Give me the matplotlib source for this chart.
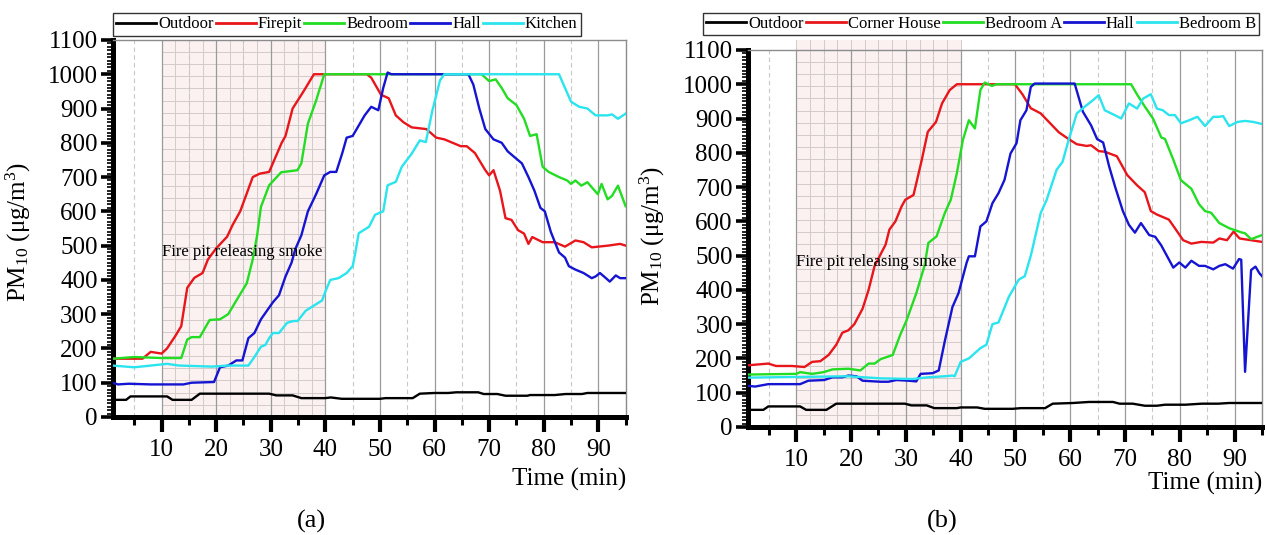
import matplotlib
matplotlib.use('Agg')
import matplotlib.pyplot as plt
from matplotlib.ticker import FixedLocator, MultipleLocator
import numpy as np

plt.rcParams['font.family'] = ['Liberation Serif', 'DejaVu Serif']
plt.rcParams['mathtext.fontset'] = 'custom'
plt.rcParams['mathtext.rm'] = 'Liberation Serif'
plt.rcParams['mathtext.it'] = 'Liberation Serif:italic'

# smoke release window (min)
smoke_start, smoke_end = 10, 40

# ---- house (a): (time min, PM10 ug/m3) ----
outdoor_a = [(1, 50), (3.5, 50), (4.3, 60), (11, 60), (12, 50), (15.5, 50), (17, 68), (29.7, 68),
             (31, 63), (34, 63), (35.6, 55), (40, 55), (41, 57), (43, 53), (50, 53), (51, 55),
             (56, 55), (57.3, 68), (60, 70), (62.5, 70), (64, 72), (68, 72), (69, 67), (71.5, 67),
             (73, 62), (77, 62), (77.5, 64), (82, 64), (84, 67), (87, 67), (88, 70), (95, 70)]
firepit_a = [(1, 170), (6.5, 170), (8, 190), (10, 185), (11, 200), (12.5, 236), (13.6, 265),
             (14.7, 377), (16, 406), (17.5, 420), (18.5, 460), (20, 492), (22, 526), (23, 560),
             (24.4, 600), (26.7, 700), (28, 710), (29.7, 715), (32, 800), (32.7, 820), (34, 900),
             (36, 950), (37.9, 1000), (47.6, 1000), (48.4, 990), (50.2, 940), (51.6, 930),
             (52.9, 880), (54.3, 860), (55.8, 845), (58.5, 840), (60.3, 815), (61.8, 810),
             (63.3, 800), (64.8, 790), (65.9, 790), (67.4, 770), (69.3, 720), (70, 705),
             (70.8, 720), (72, 660), (73, 580), (74.1, 575), (75.3, 545), (76.4, 535), (77.2, 505),
             (77.9, 525), (79.8, 510), (82, 510), (83.9, 497), (85.8, 515), (87.3, 510),
             (88.8, 495), (91.8, 500), (94, 505), (95, 500)]
bedroom_a = [(1, 170), (5, 175), (10, 172), (13.6, 172), (14.7, 226), (15.5, 233), (17, 233),
             (18.8, 283), (20.7, 285), (22.2, 300), (23.7, 340), (25.6, 390), (26.7, 460),
             (27.5, 530), (28.2, 613), (29.7, 676), (31.9, 714), (34.9, 720), (35.6, 740),
             (36.8, 856), (38.3, 923), (39.8, 1000), (68.6, 1000), (70, 980), (71.2, 985),
             (72.3, 960), (73.4, 930), (75, 910), (76.4, 870), (77.5, 820), (78.7, 825), (79.8, 730),
             (80.9, 715), (82.8, 700), (84.3, 690), (85, 680), (85.8, 690), (86.9, 675), (88, 685),
             (89.9, 650), (90.6, 680), (91.7, 635), (92.5, 645), (93.6, 675), (95, 615)]
hall_a = [(1, 100), (2, 95), (4, 97), (8, 95), (14, 95), (15.5, 100), (19.6, 102), (20.7, 145),
          (22.2, 150), (23.7, 165), (24.8, 165), (25.9, 230), (27, 245), (28.2, 285), (29.3, 310),
          (30.4, 335), (31.5, 355), (32.7, 410), (33.8, 450), (34.5, 490), (35.6, 530), (36.8, 600),
          (38.3, 650), (39.8, 705), (40.9, 715), (42, 715), (43.1, 770), (43.9, 815), (45, 820),
          (46.1, 850), (47.2, 880), (48.4, 905), (49.7, 895), (50.6, 960), (51.4, 1005),
          (52.1, 1000), (66.2, 1000), (67.1, 970), (68.2, 900), (69.3, 840), (70.8, 810),
          (72.3, 800), (73.4, 775), (74.5, 760), (76, 740), (77.2, 700), (78.3, 660), (79.4, 610),
          (80.2, 600), (81.3, 540), (82.8, 480), (83.9, 465), (84.6, 440), (85.8, 430),
          (87.3, 420), (88.8, 405), (89.5, 410), (90.3, 420), (91.4, 405), (92.1, 395),
          (93.2, 413), (94, 405), (95, 405)]
kitchen_a = [(1, 150), (5, 145), (8, 150), (11, 155), (13.2, 150), (19.2, 147), (22.2, 150),
             (25.9, 150), (27, 175), (28.2, 205), (29, 210), (29.7, 230), (30.4, 245), (31.5, 245),
             (33, 275), (34.2, 280), (34.9, 280), (36.4, 310), (37.9, 325), (39.4, 340),
             (40.1, 370), (40.9, 400), (42.4, 405), (43.9, 420), (45, 440), (45.5, 480),
             (46.1, 536), (48, 555), (49.1, 590), (50.6, 600), (51.4, 676), (52.9, 686), (54, 730),
             (55.8, 768), (57.3, 807), (58.4, 802), (59.6, 894), (61, 982), (61.8, 1000),
             (82.8, 1000), (83.9, 960), (85, 920), (86.5, 905), (88, 900), (89.5, 880), (91.7, 880),
             (92.5, 883), (93.6, 870), (95, 885)]

# ---- house (b) ----
outdoor_b = [(1.2, 50), (4, 50), (4.9, 60), (10.7, 60), (11.8, 50), (15.5, 50), (17.3, 68),
             (29.8, 68), (31, 63), (33.8, 63), (35.2, 55), (39.3, 55), (40, 57), (43, 57),
             (44.4, 53), (49.5, 53), (51, 55), (55.4, 55), (56.8, 68), (60.5, 70), (63.4, 73),
             (67.8, 73), (69, 68), (71.4, 68), (73.6, 62), (75.8, 62), (77.3, 65), (81, 65),
             (84, 68), (87, 68), (89, 70), (95, 70)]
corner_b = [(1.2, 180), (4.9, 185), (6.3, 178), (9.2, 178), (11.5, 175), (12.9, 190), (14.4, 192),
            (15.9, 210), (17.3, 240), (18.4, 275), (19.5, 282), (20.6, 300), (22.1, 345),
            (23.2, 400), (24.3, 470), (25.2, 498), (26.3, 532), (27, 576), (28.1, 600), (29.2, 643),
            (29.9, 663), (31.4, 677), (32.9, 779), (34, 861), (35.5, 890), (36.6, 944), (38, 983),
            (39.3, 1000), (49.9, 1000), (51.3, 970), (52.8, 930), (54.6, 915), (56.1, 890),
            (57.9, 860), (59.7, 840), (61.2, 825), (63, 820), (63.8, 822), (65.2, 805), (66.3, 803),
            (68.5, 790), (70.4, 735), (72.2, 705), (73.6, 685), (74.7, 630), (75.8, 620),
            (78, 605), (79.1, 580), (80.6, 545), (82.1, 535), (83.9, 540), (86.1, 538),
            (87.2, 550), (88.6, 545), (89.8, 570), (90.9, 550), (95, 540)]
bedroomA_b = [(1.2, 153), (10, 155), (10.7, 160), (12.9, 155), (15, 160), (16.6, 168), (19.5, 170),
              (21.7, 165), (23.2, 185), (24.3, 185), (25.4, 198), (27.6, 210), (29, 270),
              (30.1, 310), (31.9, 390), (33.4, 470), (34.1, 537), (35.6, 556), (37.1, 624),
              (38.2, 663), (39.3, 740), (40.4, 837), (41.5, 895), (42.6, 871), (43.6, 983),
              (44.4, 1005), (45.7, 995), (46.5, 1000), (71.1, 1000), (72.2, 970), (73.6, 935),
              (75.1, 900), (76.6, 845), (77.3, 840), (78.8, 780), (80.2, 720), (82.1, 695),
              (83.5, 650), (84.6, 630), (85.7, 625), (87.2, 595), (89, 580), (91.2, 568),
              (91.9, 565), (93, 548), (95, 560)]
hall_b = [(1.2, 120), (2.5, 118), (4.9, 125), (10.7, 125), (12.2, 135), (15.1, 137), (16.6, 145),
          (18.4, 145), (19.5, 150), (21, 148), (22.1, 135), (25.4, 132), (26.8, 132), (28.3, 137),
          (30.5, 135), (31.9, 133), (32.7, 155), (34.9, 157), (36, 165), (37.1, 250), (38.5, 350),
          (39.6, 390), (41.1, 480), (41.5, 498), (42.6, 498), (43.6, 585), (44.7, 600),
          (45.8, 653), (46.9, 682), (48, 721), (49.1, 798), (50.2, 828), (50.9, 895), (52, 924),
          (52.8, 992), (53.5, 1002), (60.8, 1002), (62.3, 920), (63.8, 880), (64.9, 840),
          (66, 830), (67.1, 760), (68.2, 700), (69.6, 630), (70.7, 590), (71.8, 567), (72.9, 595),
          (74.4, 560), (75.5, 555), (76.6, 530), (78.8, 465), (79.9, 480), (81, 465), (82.1, 485),
          (83.5, 470), (84.6, 470), (86.1, 460), (87.2, 470), (88.3, 475), (89.7, 462),
          (90.8, 490), (91.2, 488), (91.9, 161), (93, 458), (93.8, 468), (94.5, 449), (95, 440)]
bedroomB_b = [(1.2, 144), (19.5, 148), (22.4, 145), (25.3, 142), (31.2, 140), (34.1, 145),
              (37.1, 148), (38.5, 150), (38.9, 148), (40, 190), (41.5, 200), (43.6, 230),
              (44.7, 240), (45.8, 300), (46.9, 305), (48.8, 380), (50.6, 430), (51.7, 440),
              (52.8, 500), (53.2, 527), (54.6, 624), (55.7, 663), (57.5, 750), (58.6, 774),
              (59.7, 837), (61.2, 915), (62.6, 934), (64.1, 953), (65.2, 968), (66.3, 924),
              (68.1, 910), (69.3, 900), (70.7, 944), (72.2, 929), (73.3, 958), (74.7, 971),
              (75.8, 929), (76.9, 924), (78, 910), (79.1, 910), (80.2, 886), (81.7, 895),
              (83.2, 905), (84.6, 878), (86.1, 905), (87.2, 905), (87.9, 907), (89, 878),
              (90.5, 890), (91.9, 893), (93.4, 890), (95, 884)]

names_a = ['Outdoor', 'Firepit', 'Bedroom', 'Hall', 'Kitchen']
names_b = ['Outdoor', 'Corner House', 'Bedroom A', 'Hall', 'Bedroom B']
colors = ['black', '#e8161b', '#22dd22', '#1414d2', '#2ae4ee']
x_major = [10, 20, 30, 40, 50, 60, 70, 80, 90]
x_minor = [5, 15, 25, 35, 45, 55, 65, 75, 85, 95]
y_ticks = list(range(0, 1101, 100))


def panel(ax, series, names, xlim, shade_top, xlabel_y):
    # smoke period: pale pink band with a fine grid on top
    ax.fill_between([smoke_start, smoke_end], 0, shade_top, color='#fbf1f1',
                    zorder=0, lw=0, clip_on=False)
    for xv in np.arange(smoke_start, smoke_end + 0.1, 2.5):
        ax.plot([xv, xv], [0, shade_top], color='#d3caca', lw=0.7, zorder=0.5, clip_on=False)
    for yv in np.arange(0, shade_top, 35.5):
        ax.plot([smoke_start, smoke_end], [yv, yv], color='#d3caca', lw=0.7, zorder=0.5,
                clip_on=False)

    for data, name, c in zip(series, names, colors):
        t, v = zip(*data)
        ax.plot(t, v, color=c, lw=1.7, label=name, zorder=3)

    ax.set_xlim(*xlim)
    ax.set_ylim(0, 1100)
    ax.xaxis.set_major_locator(FixedLocator(x_major))
    ax.xaxis.set_minor_locator(FixedLocator(x_minor))
    ax.yaxis.set_major_locator(FixedLocator(y_ticks))
    ax.yaxis.set_minor_locator(MultipleLocator(10))
    ax.grid(axis='x', which='major', color='#9a9a9a', lw=0.9, zorder=1)
    ax.grid(axis='x', which='minor', color='#c8c8c8', lw=0.8, ls=(0, (4, 3)), zorder=1)
    ax.set_axisbelow(True)

    for s in ('left', 'bottom'):
        ax.spines[s].set_linewidth(3.6)
        ax.spines[s].set_color('black')
    for s in ('top', 'right'):
        ax.spines[s].set_linewidth(1.0)
        ax.spines[s].set_color('#8c8c8c')

    ax.tick_params(axis='x', which='major', length=11, width=3, labelsize=18, pad=5)
    ax.tick_params(axis='x', which='minor', length=6, width=2.2)
    ax.tick_params(axis='y', which='major', length=9, width=2.6, labelsize=18, pad=2)
    ax.tick_params(axis='y', which='minor', length=4, width=1.2)
    ax.text(smoke_start, 480, 'Fire pit releasing smoke', fontsize=12, va='center', ha='left',
            zorder=4)
    ax.set_ylabel(r'PM$_{10}$ ($\mathrm{\mu}$g/m$^3$)', fontsize=18)
    ax.set_xlabel('Time (min)', fontsize=18, ha='right')
    ax.xaxis.set_label_coords(1.0, xlabel_y)


fig = plt.figure(figsize=(12.67, 5.35), dpi=100)
ax1 = fig.add_axes([0.0892, 0.2206, 0.405, 0.7047])
ax2 = fig.add_axes([0.5904, 0.2019, 0.4057, 0.7047])

panel(ax1, [outdoor_a, firepit_a, bedroom_a, hall_a, kitchen_a], names_a, (1.1, 95.1), 1100,
      -0.135)
panel(ax2, [outdoor_b, corner_b, bedroomA_b, hall_b, bedroomB_b], names_b, (1.2, 95.0), 1130,
      -0.12)

ax1.yaxis.set_label_coords(-0.156, 0.49)
ax2.yaxis.set_label_coords(-0.158, 0.507)

leg_kw = dict(ncol=5, loc='lower left', frameon=True, fancybox=False, edgecolor='black',
              fontsize=12, handlelength=2.4, handletextpad=0.12, columnspacing=0.12,
              borderpad=0.2, borderaxespad=0)
l1 = ax1.legend(bbox_to_anchor=(0.0, 1.011), **leg_kw)
l2 = ax2.legend(bbox_to_anchor=(-0.0875, 1.039), **leg_kw)
for lg in (l1, l2):
    lg.get_frame().set_linewidth(1.0)
    for ln in lg.get_lines():
        ln.set_linewidth(2)

fig.text(0.2455, 0.026, '(a)', fontsize=19, ha='center', va='center')
fig.text(0.7435, 0.026, '(b)', fontsize=19, ha='center', va='center')

fig.savefig('out.png', dpi=100)
